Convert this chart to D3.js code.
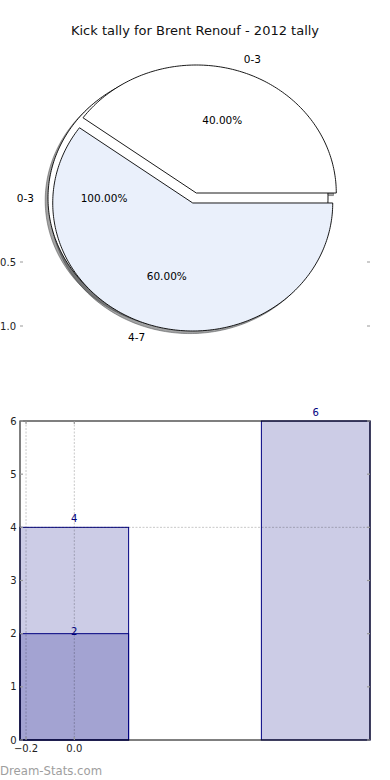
<!DOCTYPE html>
<html><head><meta charset="utf-8">
<script src="https://cdn.jsdelivr.net/npm/d3@7"></script>
<style>
html,body{margin:0;padding:0;background:#fff;}
svg{display:block;font-family:"DejaVu Sans",sans-serif;}
</style></head>
<body>
<script>
// ---- data ----
const title = "Kick tally for Brent Renouf - 2012 tally";
const pie1Labels = ["0-3"];
const pie1Values = [100];
const pie2Labels = ["0-3", "4-7"];
const pie2Values = [40, 60];
const pieColors = ["#ffffff", "#eaf0fb"];
const pieTicks = [-0.5, -1.0];
const pieTickLabels = ["0.5", "1.0"];   // minus sign falls outside the visible frame in the reference

const barCategories = [0, 1];
const barSeriesA = [4, 6];
const barSeriesB = [2, null];
const barXTicks = [-0.2, 0.0];
const barXTickLabels = ["\u22120.2", "0.0"];
const barYTicks = [0, 1, 2, 3, 4, 5, 6];
const barYGrid = [4];
const watermark = "Dream-Stats.com";

// ---- layout ----
const W = 390, H = 780;
const svg = d3.select("body").append("svg").attr("width", W).attr("height", H);

svg.append("text").attr("x", 195).attr("y", 34.5).attr("text-anchor", "middle")
  .attr("font-size", 13).attr("fill", "#111").text(title);

// pie scales (data units, ellipse because axes not equal)
const px = d3.scaleLinear().domain([-1, 1]).range([48, 328]);
const py = d3.scaleLinear().domain([-1, 1]).range([326, 70]);
const line = d3.line().x(d => px(d[0])).y(d => py(d[1]));

function wedgePts(cx, cy, r, a0, a1) {
  const pts = [];
  const full = (a1 - a0) >= 2 * Math.PI - 1e-6;
  if (!full) pts.push([cx, cy]);
  const n = Math.max(8, Math.ceil((a1 - a0) / (2 * Math.PI) * 360));
  for (let i = 0; i <= n; i++) {
    const t = a0 + (a1 - a0) * i / n;
    pts.push([cx + r * Math.cos(t), cy + r * Math.sin(t)]);
  }
  return pts;
}

function pieWedges(values, labels, center, explode) {
  const arcs = d3.pie().sort(null).startAngle(0).endAngle(2 * Math.PI)(values);
  const total = d3.sum(values);
  return arcs.map((a, i) => {
    const tm = (a.startAngle + a.endAngle) / 2;
    const cx = center[0] + explode * Math.cos(tm);
    const cy = center[1] + explode * Math.sin(tm);
    return {a, i, tm, cx, cy, center, label: labels[i], pct: (values[i] / total * 100).toFixed(2) + "%"};
  });
}

const allWedges = [
  ...pieWedges(pie1Values, pie1Labels, [0, 0], 0),
  ...pieWedges(pie2Values, pie2Labels, [0.0465, 0], 0.041)
];

const gp = svg.append("g");
const gShadow = gp.append("g"), gWedge = gp.append("g"), gText = gp.append("g");

allWedges.forEach(w => {
  const sc = d3.color(pieColors[w.i]).darker(3.5);
  gShadow.append("path").attr("d", line(wedgePts(w.cx - 0.02, w.cy - 0.02, 1, w.a.startAngle, w.a.endAngle)) + "Z")
    .attr("fill", sc).attr("fill-opacity", 0.5)
    .attr("stroke", sc).attr("stroke-opacity", 0.5).attr("stroke-width", 1);
  gWedge.append("path").attr("d", line(wedgePts(w.cx, w.cy, 1, w.a.startAngle, w.a.endAngle)) + "Z")
    .attr("fill", pieColors[w.i]).attr("stroke", "#000").attr("stroke-width", 0.9);
  const lx = w.cx + 1.1 * Math.cos(w.tm), ly = w.cy + 1.1 * Math.sin(w.tm);
  gText.append("text").attr("x", px(lx)).attr("y", py(ly)).attr("dy", "0.35em")
    .attr("text-anchor", lx - w.center[0] < 0 ? "end" : "start")
    .attr("font-size", 10.5).attr("fill", "#000").text(w.label);
  const tx = w.cx + 0.6 * Math.cos(w.tm), ty = w.cy + 0.6 * Math.sin(w.tm);
  gText.append("text").attr("x", px(tx)).attr("y", py(ty)).attr("dy", "0.35em")
    .attr("text-anchor", "middle").attr("font-size", 10.5).attr("fill", "#000").text(w.pct);
});

// pie axis ticks
pieTicks.forEach((t, i) => {
  gp.append("line").attr("x1", 20).attr("x2", 23).attr("y1", py(t)).attr("y2", py(t))
    .attr("stroke", "#aaa").attr("stroke-width", 1.2);
  gp.append("line").attr("x1", 367).attr("x2", 370).attr("y1", py(t)).attr("y2", py(t))
    .attr("stroke", "#aaa").attr("stroke-width", 1.2);
  gp.append("text").attr("x", 16).attr("y", py(t)).attr("dy", "0.35em").attr("text-anchor", "end")
    .attr("font-size", 10).attr("fill", "#222").text(pieTickLabels[i]);
});

// ---- bar chart ----
const bx = d3.scaleLinear().domain([-0.225, 1.225]).range([20, 370]);
const by = d3.scaleLinear().domain([0, 6]).range([740, 421]);
const barW = 0.45;
const navy = "#000080";
const gb = svg.append("g");

barCategories.forEach((c, i) => {
  const v = barSeriesA[i];
  gb.append("rect").attr("x", bx(c - barW / 2)).attr("y", by(v))
    .attr("width", bx(c + barW / 2) - bx(c - barW / 2)).attr("height", by(0) - by(v))
    .attr("fill", navy).attr("fill-opacity", 0.2).attr("stroke", navy).attr("stroke-width", 1);
  gb.append("text").attr("x", bx(c)).attr("y", by(v) - 5).attr("text-anchor", "middle")
    .attr("font-size", 10).attr("fill", navy).text(v);
});
barCategories.forEach((c, i) => {
  const v = barSeriesB[i];
  if (v == null) return;
  gb.append("text").attr("x", bx(c)).attr("y", by(v) + 1).attr("text-anchor", "middle")
    .attr("font-size", 10).attr("fill", navy).text(v);
  gb.append("rect").attr("x", bx(c - barW / 2)).attr("y", by(v))
    .attr("width", bx(c + barW / 2) - bx(c - barW / 2)).attr("height", by(0) - by(v))
    .attr("fill", navy).attr("fill-opacity", 0.2).attr("stroke", navy).attr("stroke-width", 1);
});

// grid
barXTicks.forEach(t => {
  gb.append("line").attr("x1", bx(t)).attr("x2", bx(t)).attr("y1", 421).attr("y2", 740)
    .attr("stroke", "#000").attr("stroke-opacity", 0.22).attr("stroke-width", 1).attr("stroke-dasharray", "2,1.5");
});
barYGrid.forEach(t => {
  gb.append("line").attr("x1", 20).attr("x2", 370).attr("y1", by(t)).attr("y2", by(t))
    .attr("stroke", "#000").attr("stroke-opacity", 0.22).attr("stroke-width", 1).attr("stroke-dasharray", "2,1.5");
});

// frame
gb.append("rect").attr("x", 20).attr("y", 421).attr("width", 350).attr("height", 319)
  .attr("fill", "none").attr("stroke", "#000").attr("stroke-width", 1);

// ticks
barYTicks.forEach(t => {
  gb.append("line").attr("x1", 20).attr("x2", 23).attr("y1", by(t)).attr("y2", by(t)).attr("stroke", "#999").attr("stroke-width", 1.2);
  gb.append("line").attr("x1", 367).attr("x2", 370).attr("y1", by(t)).attr("y2", by(t)).attr("stroke", "#999").attr("stroke-width", 1.2);
  gb.append("text").attr("x", 16.5).attr("y", by(t)).attr("dy", "0.35em").attr("text-anchor", "end")
    .attr("font-size", 10).attr("fill", "#222").text(t);
});
barXTicks.forEach((t, i) => {
  gb.append("line").attr("x1", bx(t)).attr("x2", bx(t)).attr("y1", 421).attr("y2", 424).attr("stroke", "#999").attr("stroke-width", 1.2);
  gb.append("line").attr("x1", bx(t)).attr("x2", bx(t)).attr("y1", 737).attr("y2", 740).attr("stroke", "#999").attr("stroke-width", 1.2);
  gb.append("text").attr("x", bx(t)).attr("y", 752).attr("text-anchor", "middle")
    .attr("font-size", 10).attr("fill", "#222").text(barXTickLabels[i]);
});

svg.append("text").attr("x", 0).attr("y", 774.5).attr("font-size", 11.7)
  .attr("fill", "#9e9e9e").text(watermark);
</script>
</body></html>
